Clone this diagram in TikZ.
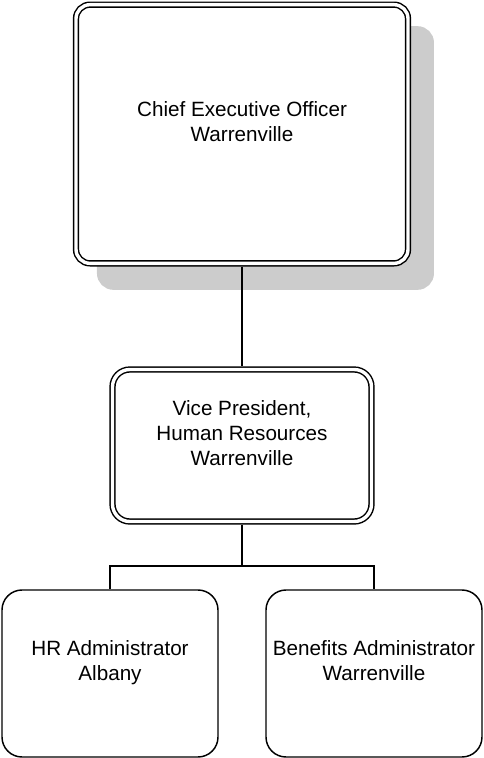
\documentclass[tikz,border=0pt]{standalone}
\usepackage{fontspec}
\setmainfont{Liberation Sans}
\usetikzlibrary{shadows}
\tikzstyle{chart} = [rectangle, draw, fill=white, line width=1.1pt, align=center,
    font=\fontsize{15.5}{18.75}\selectfont]
\tikzstyle{head} = [chart, double, double distance=2.55pt, outer sep=2.4pt]
\tikzstyle{ceobox} = [head, rounded corners=10.5pt,
    minimum width=249pt, minimum height=194pt,
    drop shadow={shadow xshift=17.6pt, shadow yshift=-18pt, opacity=1,
    fill=black!20, draw=black!20, line width=3.75pt}]
\tikzstyle{vpbox} = [head, rounded corners=13pt,
    minimum width=194.25pt, minimum height=114pt]
\tikzstyle{staff} = [chart, rounded corners=15pt,
    minimum width=162pt, minimum height=125.25pt]
\tikzstyle{line} = [draw, line width=1.1pt]

\begin{document}
\begin{tikzpicture}[x=0.75pt,y=-0.75pt]
                \useasboundingbox (0,0) rectangle (483,758);
                \node [ceobox] at (242,134) (ceo) {Chief Executive Officer\\Warrenville\\ \mbox{}};
                \node [vpbox] at (242,445.5) (vp) {Vice President,\\Human Resources\\Warrenville\\ \mbox{}};
                \node [staff] at (110,673.5) (hr) {HR Administrator\\Albany\\ \mbox{}};
                \node [staff] at (374,673.5) (ben) {Benefits Administrator\\Warrenville\\ \mbox{}};
                \coordinate (split) at (242,566);
                \path [line] (ceo) -- (vp);
                \path [line] (vp) -- (split);
                \path [line] (split) -| (hr);
                \path [line] (split) -| (ben);
            \end{tikzpicture}
\end{document}
